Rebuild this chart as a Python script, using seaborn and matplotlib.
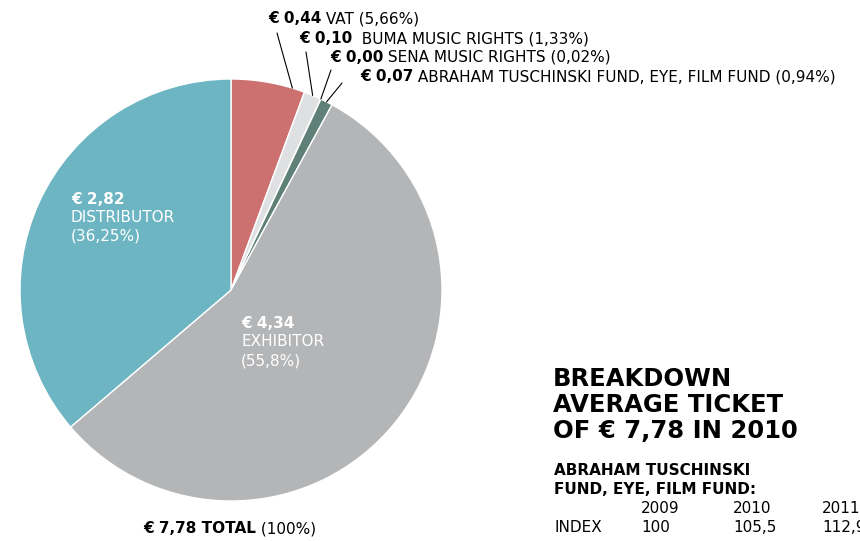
import numpy as np
import matplotlib
matplotlib.use("Agg")
import matplotlib.pyplot as plt
import seaborn as sns

sns.set_style("white")
plt.rcParams["font.family"] = ["DejaVu Sans"]
plt.rcParams["text.color"] = "black"

# ticket breakdown, clockwise from 12 o'clock
parts = ["VAT", "BUMA MUSIC RIGHTS", "SENA MUSIC RIGHTS",
         "ABRAHAM TUSCHINSKI FUND, EYE, FILM FUND", "EXHIBITOR", "DISTRIBUTOR"]
amounts = [0.44, 0.10, 0.00, 0.07, 4.34, 2.82]
shares = [5.66, 1.33, 0.02, 0.94, 55.8, 36.25]
colors = ["#cc7070", "#dfe0e2", "#8a9a96", "#5e8077", "#b4b5b7", "#6db5c2"]
total = 7.78

index_years = ["2009", "2010", "2011"]
index_values = ["100", "105,5", "112,9"]

W, H = 860, 541
FS = 11


def px(x, y):
    return x / W, 1 - y / H


def eur(v):
    return f"{v:.2f}".replace(".", ",")


def pct(v):
    return f"{v:g}".replace(".", ",")


fig = plt.figure(figsize=(W / 100, H / 100), dpi=100)
fig.patch.set_facecolor("white")

# pie
ax = fig.add_axes([20 / W, 40 / H, 422 / W, 422 / H])
wedges, _ = ax.pie(shares, colors=colors, startangle=90, counterclock=False,
                   wedgeprops=dict(edgecolor="white", linewidth=1))
ax.set_xlim(-1, 1)
ax.set_ylim(-1, 1)
ax.axis("off")


def two_part(x, y, bold, rest, size=FS, color="black"):
    t = fig.text(*px(x, y), bold, fontsize=size, fontweight="bold",
                 color=color, va="bottom", ha="left")
    fig.canvas.draw()
    ax.annotate(rest, xy=(1, 0), xycoords=t, fontsize=size, color=color,
                va="bottom", ha="left", annotation_clip=False)
    return t


# small slices with leader lines
label_pos = [(268, 26), (299, 46), (330, 65), (360, 84)]
line_start = [(277, 33), (306, 52), (331, 70), (342, 83)]
anchor_frac = [0.17, 0.5, 0.5, 0.5]
gaps = ["", " ", "", ""]
for i in range(4):
    x, y = label_pos[i]
    two_part(x, y, f"€ {eur(amounts[i])}",
             f"{gaps[i]} {parts[i]} ({pct(shares[i])}%)")
    w = wedges[i]
    a = np.deg2rad(w.theta1 + anchor_frac[i] * (w.theta2 - w.theta1))
    ax.annotate("", xy=(np.cos(a), np.sin(a)), xycoords="data",
                xytext=px(*line_start[i]), textcoords="figure fraction",
                arrowprops=dict(arrowstyle="-", lw=0.8, color="black",
                                shrinkA=0, shrinkB=0),
                annotation_clip=False)

# big slices, labels inside
inside_pos = {5: (71, 207), 4: (241, 331)}
for i, (x, y) in inside_pos.items():
    fig.text(*px(x, y), f"€ {eur(amounts[i])}", fontsize=FS,
             fontweight="bold", color="white", va="bottom")
    fig.text(*px(x, y + 18), parts[i], fontsize=FS, color="white", va="bottom")
    fig.text(*px(x, y + 37), f"({pct(shares[i])}%)", fontsize=FS,
             color="white", va="bottom")

# total under the pie
t = fig.text(*px(143, 536), f"€ {eur(total)} TOTAL", fontsize=FS,
             fontweight="bold", va="bottom")
ax.annotate(" (100%)", xy=(1, 0), xycoords=t, fontsize=FS,
            va="bottom", ha="left", annotation_clip=False)

# title block
title_lines = ["BREAKDOWN", "AVERAGE TICKET", f"OF € {eur(total)} IN 2010"]
for k, line in enumerate(title_lines):
    fig.text(*px(553, 391 + 26 * k), line, fontsize=17.5, fontweight="bold",
             va="bottom")

fig.text(*px(554, 478), "ABRAHAM TUSCHINSKI", fontsize=FS, fontweight="bold",
         va="bottom")
fig.text(*px(554, 497), "FUND, EYE, FILM FUND:", fontsize=FS, fontweight="bold",
         va="bottom")

col_x = [641, 733, 822]
for cx, yr, val in zip(col_x, index_years, index_values):
    fig.text(*px(cx, 516), yr, fontsize=FS, va="bottom")
    fig.text(*px(cx, 535), val, fontsize=FS, va="bottom")
fig.text(*px(554, 535), "INDEX", fontsize=FS, va="bottom")

fig.savefig("out.png", dpi=100, facecolor="white")
